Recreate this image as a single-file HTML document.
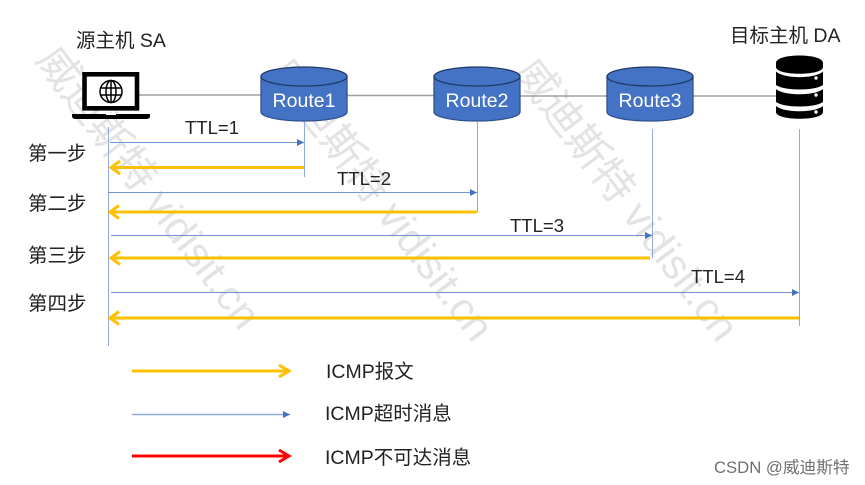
<!DOCTYPE html>
<html><head><meta charset="utf-8">
<style>html,body{margin:0;padding:0;background:#fff;width:865px;height:485px;overflow:hidden}svg{display:block}
text{font-family:"Liberation Sans","Noto Sans CJK SC",sans-serif}</style></head>
<body>
<svg width="865" height="485" viewBox="0 0 865 485" xmlns="http://www.w3.org/2000/svg">
<defs>
<marker id="b" markerUnits="userSpaceOnUse" markerWidth="8" markerHeight="8" refX="7" refY="4" orient="auto"><path d="M0 0.5L7 4L0 7.5Z" fill="#4472c4"/></marker>
<g id="cyl">
<path d="M-43 8.500V44A43 9 0 0 0 43 44V8.500Z" fill="#4472c4" stroke="#2f528f" stroke-width="1.300"/>
<ellipse cx="0" cy="8.500" rx="43" ry="9.500" fill="#4472c4" stroke="#1f3864" stroke-width="1.300"/>
</g>
</defs>
<!-- watermark -->
<g fill="#e3e3e3" font-size="42">
<text transform="translate(35 60) rotate(53)">威迪斯特 vidisit.cn</text>
<text transform="translate(268 72) rotate(53)">威迪斯特 vidisit.cn</text>
<text transform="translate(513 72) rotate(53)">威迪斯特 vidisit.cn</text>
</g>
<!-- backbone -->
<path d="M139 95H262M346 95.500H435M519 96H607M692 96H776" stroke="#a0a0a0" stroke-width="1.500" fill="none"/>
<!-- laptop -->
<rect x="84.500" y="74.300" width="52.500" height="34" fill="#fff" stroke="#000" stroke-width="4.600"/>
<path d="M72 114H150V116Q150 119 146 119H76Q72 119 72 116Z" fill="#000"/>
<rect x="106" y="113" width="10" height="2" fill="#fff"/>
<g fill="none" stroke="#000" stroke-width="1.500"><circle cx="111" cy="91.500" r="11"/><ellipse cx="111" cy="91.500" rx="5" ry="11"/><path d="M111 80.500V102.500M100.500 88H121.500M100.500 95H121.500"/></g>
<!-- routers -->
<use href="#cyl" x="304" y="68"/><use href="#cyl" x="477" y="68"/><use href="#cyl" x="650" y="68"/>
<g fill="#fff" font-size="19.500" text-anchor="middle"><text x="304" y="107">Route1</text><text x="477" y="107">Route2</text><text x="650" y="107">Route3</text></g>
<!-- server -->
<path d="M776 63C776 53 823 53 823 63V67C823 76 776 76 776 67Z M776 71.500C784 79 815 79 823 71.500V85C815 91 784 91 776 85Z M776 89C784 96 815 96 823 89V102C815 108 784 108 776 102Z M776 106C784 113 815 113 823 106V112C823 121 776 121 776 112Z" fill="#000"/>
<circle cx="816" cy="78" r="1.700" fill="#fff"/><circle cx="816" cy="95" r="1.700" fill="#fff"/><circle cx="816" cy="112" r="1.700" fill="#fff"/>
<!-- lifelines -->
<g stroke="#8faadc" stroke-width="1" fill="none">
<path d="M108.500 127V346M304.500 122V177M477.500 122V212M652.500 129V258M799.500 129V326"/>
</g>
<!-- blue arrows -->
<g stroke="#6f94d6" stroke-width="1" fill="none">
<path d="M110 142.500H304" marker-end="url(#b)"/>
<path d="M108 192.500H477" marker-end="url(#b)"/>
<path d="M111 235.500H652" marker-end="url(#b)"/>
<path d="M111 292.500H799" marker-end="url(#b)"/>
</g>
<!-- yellow arrows -->
<g stroke="#ffc000" stroke-width="3" fill="none">
<path d="M304 167.500H112M120 161L111 167.500L120 174"/>
<path d="M477 212H111M119 205.500L110 212L119 218.500"/>
<path d="M650 258H112M120 251.500L111 258L120 264.500"/>
<path d="M799 318H111M119 311.500L110 318L119 324.500"/>
</g>
<!-- legend -->
<g fill="none" stroke-width="3">
<path d="M132 371H288M279 365L289 371L279 377" stroke="#ffc000"/>
<path d="M132 456H288M279 450L289 456L279 462" stroke="#ff0000"/>
</g>
<path d="M132 414.500H290" stroke="#8faadc" stroke-width="1.500" fill="none" marker-end="url(#b)"/>
<!-- labels -->
<g fill="#222" font-size="19.500">
<text x="76" y="47">源主机 SA</text>
<text x="730" y="42">目标主机 DA</text>
<text x="185" y="134" font-size="18.500">TTL=1</text>
<text x="337" y="185" font-size="18.500">TTL=2</text>
<text x="510" y="232" font-size="18.500">TTL=3</text>
<text x="691" y="283" font-size="18.500">TTL=4</text>
<text x="28" y="160">第一步</text>
<text x="28" y="210">第二步</text>
<text x="28" y="262">第三步</text>
<text x="28" y="310">第四步</text>
<text x="326" y="378">ICMP报文</text>
<text x="325" y="420">ICMP超时消息</text>
<text x="325" y="464">ICMP不可达消息</text>
</g>
<text x="714" y="473" font-size="16.700" fill="#707070">CSDN @威迪斯特</text>
</svg>
</body></html>
